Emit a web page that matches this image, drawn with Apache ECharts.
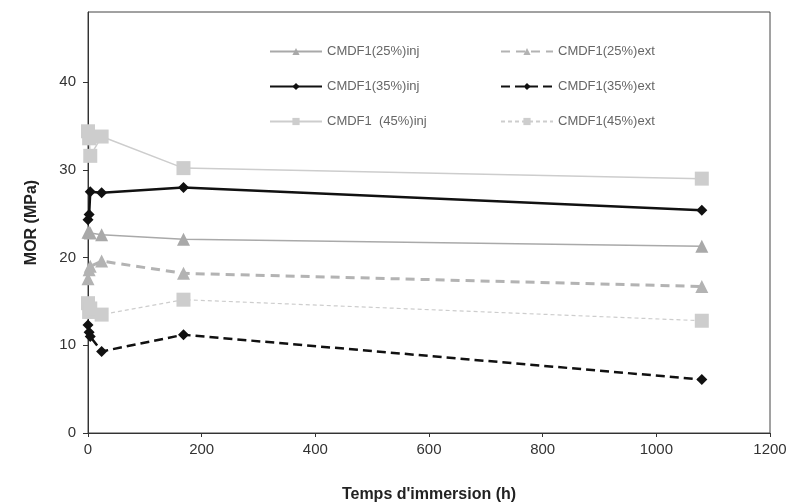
<!DOCTYPE html>
<html lang="fr">
<head>
    <meta charset="UTF-8">
    <title>MOR</title>
    <script src="https://cdn.jsdelivr.net/npm/echarts/dist/echarts.min.js"></script>
    <style>
        body { margin: 0; padding: 0; background: #fff; }
        #chart { width: 792px; height: 502px; }
    </style>
</head>
<body>
    <div id="chart"></div>
    <script>
        // temps d'immersion (h)
        const hours = [0, 2, 4, 24, 168, 1080];

        // MOR (MPa)
        const inj25 = [22.9, 22.9, 22.8, 22.6, 22.1, 21.3];
        const ext25 = [17.6, 18.6, 19.0, 19.6, 18.2, 16.7];
        const inj35 = [24.3, 24.9, 27.5, 27.4, 28.0, 25.4];
        const ext35 = [12.3, 11.5, 11.0, 9.3, 11.2, 6.1];
        const inj45 = [34.4, 33.6, 31.6, 33.8, 30.2, 29.0];
        const ext45 = [14.8, 13.8, 14.2, 13.5, 15.2, 12.8];

        const names = ['CMDF1(25%)inj', 'CMDF1(25%)ext', 'CMDF1(35%)inj',
                       'CMDF1(35%)ext', 'CMDF1  (45%)inj', 'CMDF1(45%)ext'];

        const pairs = vals => hours.map((h, i) => [h, vals[i]]);

        function line(name, vals, color, width, type, symbol, size) {
            return {
                name: name,
                type: 'line',
                data: pairs(vals),
                symbol: symbol,
                symbolSize: size,
                itemStyle: { color: color },
                lineStyle: { color: color, width: width, type: type },
                z: color === '#111' ? 5 : 3
            };
        }

        const chart = echarts.init(document.getElementById('chart'));
        const textStyle = { color: '#666', fontSize: 13, fontFamily: 'Liberation Sans, Arial, sans-serif' };

        chart.setOption({
            animation: false,
            grid: {
                left: 88, right: 22, top: 12, bottom: 69,
                outerBoundsMode: 'none', containLabel: false,
                show: true, borderColor: '#444', borderWidth: 1
            },
            legend: [
                {
                    data: [names[0], names[2], names[4]],
                    orient: 'vertical', left: 264, top: 40, itemGap: 22,
                    itemWidth: 52, itemHeight: 9, textStyle: textStyle
                },
                {
                    data: [names[1], names[3], names[5]],
                    orient: 'vertical', left: 495, top: 40, itemGap: 22,
                    itemWidth: 52, itemHeight: 9, textStyle: textStyle
                }
            ],
            xAxis: {
                type: 'value', min: 0, max: 1200, interval: 200,
                name: "Temps d'immersion (h)", nameLocation: 'middle', nameGap: 54,
                nameTextStyle: { fontSize: 16, fontWeight: 'bold', color: '#222', fontFamily: 'Liberation Sans, Arial' },
                axisLine: { lineStyle: { color: '#333' } },
                axisTick: { inside: false, length: 4, lineStyle: { color: '#333' } },
                axisLabel: { fontSize: 15, color: '#333', margin: 9, formatter: v => String(v), fontFamily: 'Liberation Sans, Arial' },
                splitLine: { show: false }
            },
            yAxis: {
                type: 'value', min: 0, max: 48, interval: 10,
                name: 'MOR (MPa)', nameLocation: 'middle', nameGap: 48, nameRotate: 90,
                nameTextStyle: { fontSize: 16, fontWeight: 'bold', color: '#222', fontFamily: 'Liberation Sans, Arial' },
                axisLine: { show: true, lineStyle: { color: '#333' } },
                axisTick: { show: true, length: 5, lineStyle: { color: '#333' } },
                axisLabel: { fontSize: 15, color: '#333', margin: 12, showMaxLabel: false, fontFamily: 'Liberation Sans, Arial' },
                splitLine: { show: false }
            },
            series: [
                line(names[0], inj25, '#a9a9a9', 1.5, 'solid', 'triangle', 13),
                line(names[1], ext25, '#b3b3b3', 3, [9, 6], 'triangle', 13),
                line(names[2], inj35, '#111', 2.5, 'solid', 'diamond', 11),
                line(names[3], ext35, '#111', 2.5, [9, 5], 'diamond', 11),
                line(names[4], inj45, '#cdcdcd', 1.5, 'solid', 'rect', 14),
                line(names[5], ext45, '#cdcdcd', 1.2, [4, 3], 'rect', 14)
            ]
        });
    </script>
</body>
</html>
